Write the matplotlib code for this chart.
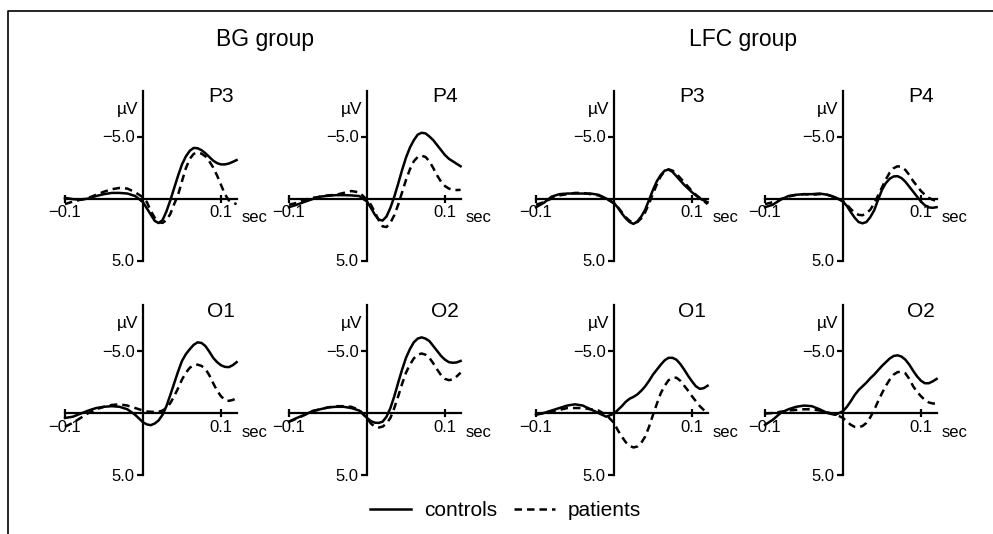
import numpy as np
import matplotlib.pyplot as plt
from matplotlib.lines import Line2D

plt.rcParams['font.family'] = ['Liberation Sans', 'DejaVu Sans']

# time axis, seconds (10 ms steps before stimulus, 5 ms after)
time_s = [-0.10, -0.09, -0.08, -0.07, -0.06, -0.05, -0.04, -0.03, -0.02, -0.01,
          0.000, 0.005, 0.010, 0.015, 0.020, 0.025, 0.030, 0.035, 0.040, 0.045,
          0.050, 0.055, 0.060, 0.065, 0.070, 0.075, 0.080, 0.085, 0.090, 0.095,
          0.100, 0.105, 0.110, 0.115, 0.120]

# amplitudes in microvolts (negative plotted upward)
bg_p3_controls = [-0.05, 0.05, 0.1, 0.0, -0.2, -0.35, -0.45, -0.45, -0.4, -0.2,
                  0.3, 0.8, 1.3, 1.8, 1.98, 1.75, 1.05, 0.15, -0.85, -1.85,
                  -2.75, -3.4, -3.85, -4.08, -4.05, -3.9, -3.65, -3.35, -3.05, -2.85,
                  -2.75, -2.75, -2.82, -2.95, -3.1]
bg_p3_patients = [0.45, 0.25, 0.1, -0.05, -0.3, -0.55, -0.75, -0.85, -0.8, -0.5,
                  -0.1, 0.3, 1.0, 1.55, 1.9, 1.97, 1.75, 1.25, 0.45, -0.3,
                  -1.4, -2.45, -3.2, -3.6, -3.7, -3.62, -3.4, -3.0, -2.5, -1.85,
                  -1.1, -0.35, 0.15, 0.35, 0.45]
bg_p4_controls = [0.7, 0.5, 0.27, 0.05, -0.15, -0.22, -0.27, -0.27, -0.25, -0.2,
                  0.25, 0.75, 1.3, 1.7, 1.78, 1.45, 0.75, -0.15, -1.2, -2.3,
                  -3.3, -4.1, -4.7, -5.15, -5.3, -5.25, -5.0, -4.7, -4.3, -3.9,
                  -3.5, -3.2, -3.0, -2.8, -2.6]
bg_p4_patients = [0.5, 0.35, 0.1, -0.05, -0.15, -0.25, -0.3, -0.45, -0.6, -0.5,
                  0.1, 0.5, 1.1, 1.75, 2.25, 2.3, 1.95, 1.35, 0.5, -0.5,
                  -1.5, -2.35, -3.0, -3.35, -3.45, -3.35, -3.0, -2.45, -1.85, -1.35,
                  -1.0, -0.8, -0.7, -0.68, -0.7]
lfc_p3_controls = [0.7, 0.35, -0.15, -0.35, -0.4, -0.4, -0.4, -0.4, -0.3, 0.0,
                   0.35, 0.75, 1.2, 1.6, 1.9, 2.05, 1.85, 1.45, 0.9, 0.1,
                   -0.7, -1.4, -1.9, -2.25, -2.33, -2.15, -1.8, -1.45, -1.1, -0.8,
                   -0.5, -0.25, 0.0, 0.15, 0.3]
lfc_p3_patients = [0.5, 0.3, 0.0, -0.25, -0.35, -0.45, -0.45, -0.35, -0.25, 0.0,
                   0.4, 0.7, 1.1, 1.5, 1.8, 1.95, 1.9, 1.6, 1.1, 0.4,
                   -0.4, -1.15, -1.8, -2.2, -2.35, -2.25, -2.0, -1.65, -1.3, -0.95,
                   -0.6, -0.3, -0.05, 0.2, 0.45]
lfc_p4_controls = [0.7, 0.5, 0.1, -0.2, -0.3, -0.35, -0.35, -0.4, -0.3, -0.1,
                   0.25, 0.6, 1.1, 1.55, 1.9, 2.0, 1.9, 1.5, 0.95, 0.1,
                   -0.7, -1.25, -1.6, -1.78, -1.8, -1.65, -1.35, -0.95, -0.55, -0.15,
                   0.25, 0.55, 0.72, 0.75, 0.7]
lfc_p4_patients = [0.45, 0.3, 0.05, -0.15, -0.3, -0.35, -0.3, -0.35, -0.3, -0.1,
                   0.2, 0.5, 0.85, 1.15, 1.32, 1.35, 1.2, 0.9, 0.4, -0.25,
                   -0.9, -1.55, -2.1, -2.45, -2.6, -2.55, -2.3, -1.9, -1.4, -1.0,
                   -0.6, -0.3, -0.05, 0.1, 0.2]
bg_o1_controls = [0.4, 0.3, 0.05, -0.2, -0.4, -0.5, -0.55, -0.5, -0.3, 0.15,
                  0.75, 0.92, 0.98, 0.85, 0.6, 0.15, -0.55, -1.45, -2.4, -3.35,
                  -4.2, -4.75, -5.15, -5.5, -5.7, -5.65, -5.4, -4.95, -4.45, -4.1,
                  -3.85, -3.72, -3.7, -3.85, -4.1]
bg_o1_patients = [1.1, 0.8, 0.4, 0.0, -0.3, -0.5, -0.65, -0.7, -0.6, -0.4,
                  -0.2, -0.12, -0.1, -0.08, -0.1, -0.2, -0.4, -0.8, -1.35, -2.0,
                  -2.7, -3.25, -3.65, -3.85, -3.9, -3.8, -3.55, -3.05, -2.4, -1.8,
                  -1.35, -1.05, -0.98, -1.05, -1.2]
bg_o2_controls = [0.7, 0.4, 0.15, -0.15, -0.3, -0.45, -0.5, -0.5, -0.4, -0.2,
                  0.4, 0.65, 0.78, 0.8, 0.7, 0.3, -0.4, -1.35, -2.45, -3.5,
                  -4.45, -5.15, -5.7, -6.0, -6.1, -6.0, -5.8, -5.4, -5.0, -4.6,
                  -4.3, -4.1, -4.05, -4.08, -4.2]
bg_o2_patients = [0.7, 0.45, 0.15, -0.15, -0.3, -0.45, -0.55, -0.55, -0.5, -0.25,
                  0.4, 0.85, 1.1, 1.17, 1.1, 0.85, 0.4, -0.4, -1.35, -2.35,
                  -3.25, -3.9, -4.4, -4.7, -4.8, -4.7, -4.45, -4.0, -3.5, -3.05,
                  -2.75, -2.65, -2.7, -2.95, -3.25]
lfc_o1_controls = [0.15, 0.0, -0.2, -0.4, -0.6, -0.7, -0.6, -0.3, 0.0, 0.3,
                   0.05, -0.25, -0.55, -0.9, -1.15, -1.3, -1.5, -1.8, -2.15, -2.6,
                   -3.1, -3.5, -3.9, -4.25, -4.45, -4.45, -4.3, -3.95, -3.5, -3.0,
                   -2.55, -2.15, -1.95, -2.0, -2.2]
lfc_o1_patients = [0.05, 0.0, -0.15, -0.25, -0.4, -0.4, -0.4, -0.3, -0.2, 0.15,
                   0.8, 1.4, 1.9, 2.35, 2.65, 2.78, 2.7, 2.4, 1.9, 1.1,
                   0.15, -0.75, -1.6, -2.2, -2.65, -2.82, -2.85, -2.6, -2.2, -1.8,
                   -1.35, -0.95, -0.55, -0.25, 0.0]
lfc_o2_controls = [0.95, 0.55, 0.0, -0.3, -0.5, -0.6, -0.55, -0.3, 0.0, 0.15,
                   -0.15, -0.5, -0.95, -1.45, -1.85, -2.15, -2.45, -2.8, -3.1, -3.45,
                   -3.8, -4.1, -4.4, -4.6, -4.65, -4.55, -4.3, -3.9, -3.4, -2.95,
                   -2.6, -2.4, -2.4, -2.55, -2.75]
lfc_o2_patients = [0.05, 0.0, -0.1, -0.2, -0.25, -0.3, -0.3, -0.2, -0.05, 0.1,
                   0.4, 0.7, 0.95, 1.12, 1.15, 1.05, 0.8, 0.35, -0.25, -0.95,
                   -1.6, -2.2, -2.7, -3.1, -3.3, -3.32, -3.2, -2.75, -2.15, -1.7,
                   -1.35, -1.05, -0.85, -0.77, -0.75]

group_names = ['BG group', 'LFC group']

# (column, row, electrode, controls, patients)
panels = [
    (0, 0, 'P3', bg_p3_controls, bg_p3_patients),
    (1, 0, 'P4', bg_p4_controls, bg_p4_patients),
    (2, 0, 'P3', lfc_p3_controls, lfc_p3_patients),
    (3, 0, 'P4', lfc_p4_controls, lfc_p4_patients),
    (0, 1, 'O1', bg_o1_controls, bg_o1_patients),
    (1, 1, 'O2', bg_o2_controls, bg_o2_patients),
    (2, 1, 'O1', lfc_o1_controls, lfc_o1_patients),
    (3, 1, 'O2', lfc_o2_controls, lfc_o2_patients),
]

W, H = 993, 534
fig = plt.figure(figsize=(W / 100, H / 100), dpi=100)

# pixel position of each panel origin (t=0, V=0)
origin_x = [143, 367, 614, 843]
origin_y = [198.5, 413]
px_per_s = 780.0
px_per_uv = 12.4
t_min, t_max = -0.1, 0.12
v_top, v_bottom = -8.7, 5.0

dash = (0, (3, 2))
lw = 1.8

for col, row, name, ctrl, pat in panels:
    x0, y0 = origin_x[col], origin_y[row]
    left = x0 + t_min * px_per_s
    width = (t_max - t_min) * px_per_s
    top = y0 + v_top * px_per_uv
    height = (v_bottom - v_top) * px_per_uv
    ax = fig.add_axes([left / W, 1 - (top + height) / H, width / W, height / H])
    ax.set_xlim(t_min, t_max)
    ax.set_ylim(v_bottom, v_top)
    ax.patch.set_visible(False)

    ax.plot(time_s, ctrl, color='black', lw=lw, clip_on=False, zorder=3)
    ax.plot(time_s, pat, color='black', lw=lw, ls=dash, clip_on=False, zorder=3)

    for s in ['top', 'right']:
        ax.spines[s].set_visible(False)
    ax.spines['left'].set_position(('data', 0))
    ax.spines['bottom'].set_position(('data', 0))
    ax.spines['left'].set_linewidth(1.6)
    ax.spines['bottom'].set_linewidth(1.6)

    ax.set_xticks([-0.1, 0.1], ['\u22120.1', '0.1'])
    ax.set_yticks([-5, 5], ['\u22125.0', '5.0'])
    ax.tick_params(axis='x', direction='inout', length=6, width=1.6, pad=2, labelsize=12)
    ax.tick_params(axis='y', direction='out', length=4, width=1.6, pad=2, labelsize=12)

    ax.text(0.1, -7.75, name, ha='center', va='baseline', fontsize=15)
    ax.text(-0.006, -7.2, '\u00b5V', ha='right', va='center', fontsize=12.5)
    ax.text(0.126, 1.9, 'sec', ha='left', va='baseline', fontsize=12)

# group titles
fig.text(265 / W, 1 - 46 / H, group_names[0], ha='center', va='baseline', fontsize=16.5)
fig.text(743 / W, 1 - 46 / H, group_names[1], ha='center', va='baseline', fontsize=16.5)

# legend
handles = [Line2D([], [], color='black', lw=lw),
           Line2D([], [], color='black', lw=lw, ls=dash)]
fig.legend(handles, ['controls', 'patients'], loc='center', ncol=2, frameon=False,
           bbox_to_anchor=(505.5 / W, 1 - 511 / H), fontsize=15,
           handlelength=2.0, handletextpad=0.6, columnspacing=0.8)

# frame lines at top and left
fig.add_artist(Line2D([8 / W, 8 / W, 1], [0, 1 - 11 / H, 1 - 11 / H],
                      transform=fig.transFigure, color='black', lw=1.2))

fig.savefig('out.png', dpi=100)
